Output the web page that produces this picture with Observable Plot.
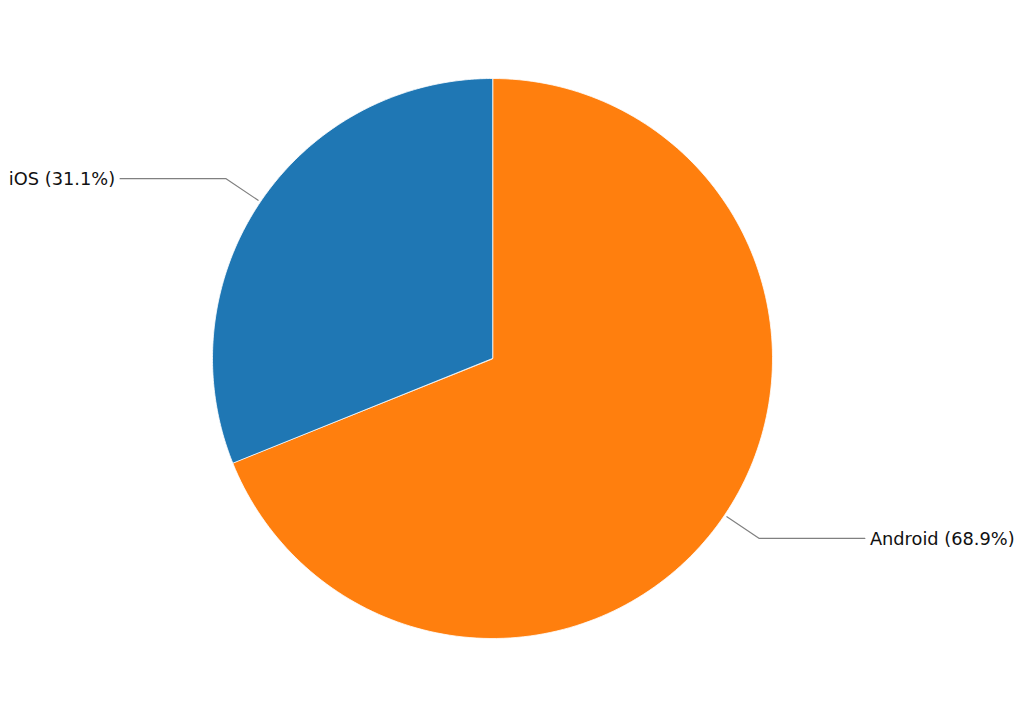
<!DOCTYPE html>
<html>
<head>
<meta charset="utf-8">
<script src="https://cdn.jsdelivr.net/npm/d3@7"></script>
<script src="https://cdn.jsdelivr.net/npm/@observablehq/plot@0.6"></script>
<style>
  html, body { margin: 0; padding: 0; background: #fff; }
  #chart { width: 1024px; height: 718px; }
</style>
</head>
<body>
<div id="chart"></div>
<script>
// Data
const categories = ["Android", "iOS"];
const shares = [68.9, 31.1];
const colors = ["#ff7f0e", "#1f77b4"];

// Layout
const W = 1024, H = 718;
const cx = 492, cy = 358, R = 280;

const total = d3.sum(shares);
const pie = d3.pie().sort(null).value(d => d.share)
  (categories.map((c, i) => ({category: c, share: shares[i]})));

// Slices as polygons in unit coords (angle clockwise from 12 o'clock)
const slicePts = [];
pie.forEach(p => {
  slicePts.push({category: p.data.category, x: 0, y: 0});
  const n = 180;
  for (let k = 0; k <= n; k++) {
    const a = p.startAngle + (p.endAngle - p.startAngle) * k / n;
    slicePts.push({category: p.data.category, x: Math.sin(a), y: Math.cos(a)});
  }
});

// Leader lines and labels
const leaderPts = [];
const labels = [];
pie.forEach(p => {
  const a = (p.startAngle + p.endAngle) / 2;
  const sx = Math.sin(a), sy = Math.cos(a);
  const side = sx >= 0 ? 1 : -1;
  const c = p.data.category;
  leaderPts.push({category: c, x: sx * 1.01, y: sy * 1.01});
  leaderPts.push({category: c, x: sx * 1.148, y: sy * 1.148});
  leaderPts.push({category: c, x: side * 1.33, y: sy * 1.148});
  labels.push({
    x: side * 1.33, y: sy * 1.148, side,
    text: `${c} (${(p.data.share / total * 100).toFixed(1)}%)`
  });
});

const chart = Plot.plot({
  width: W, height: H,
  margin: 0,
  x: {domain: [-cx / R, (W - cx) / R], range: [0, W], axis: null},
  y: {domain: [-(H - cy) / R, cy / R], range: [H, 0], axis: null},
  color: {domain: categories, range: colors},
  style: {fontFamily: "DejaVu Sans", background: "#fff"},
  marks: [
    Plot.line(slicePts, {x: "x", y: "y", z: "category", fill: "category",
      stroke: "#fff", strokeWidth: 0.8, curve: "linear-closed"}),
    Plot.line(leaderPts, {x: "x", y: "y", z: "category", stroke: "#808080", strokeWidth: 1.2}),
    Plot.text(labels.filter(d => d.side > 0), {x: "x", y: "y", text: "text",
      textAnchor: "start", dx: 5, dy: 1, fontSize: 17.8, fill: "#111"}),
    Plot.text(labels.filter(d => d.side < 0), {x: "x", y: "y", text: "text",
      textAnchor: "end", dx: -5, dy: 1, fontSize: 17.8, fill: "#111"})
  ]
});
document.getElementById("chart").appendChild(chart);
</script>
</body>
</html>
